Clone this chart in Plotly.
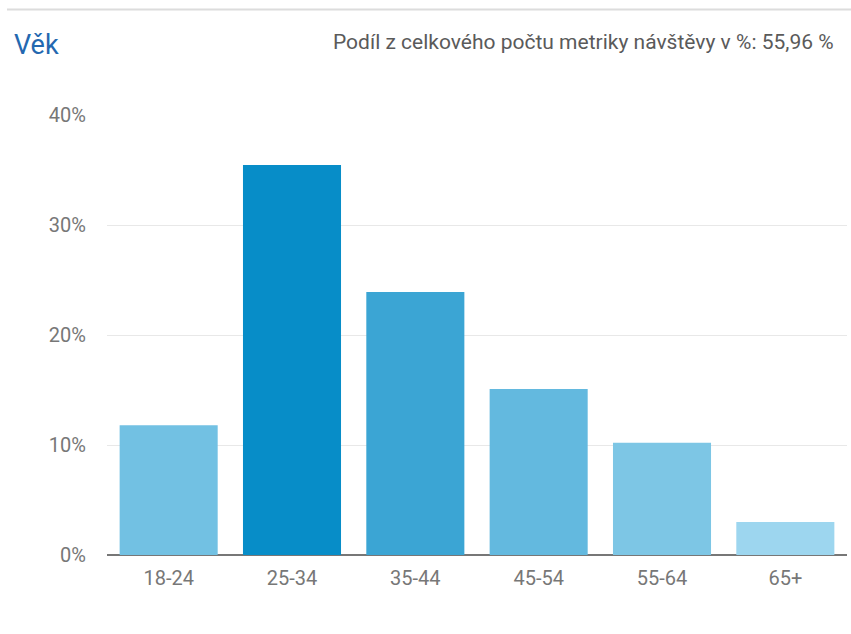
import plotly.graph_objects as go

# Age groups and their share of visits (%)
age_groups = ["18-24", "25-34", "35-44", "45-54", "55-64", "65+"]
share_pct = [11.8, 35.45, 23.9, 15.1, 10.2, 3.0]
bar_colors = ["#72c1e3", "#078dc8", "#3ba5d4", "#63b9df", "#7dc6e5", "#9dd6ef"]
y_ticks = [0, 10, 20, 30, 40]
y_tick_labels = ["0%", "10%", "20%", "30%", "40%"]

W, H = 851, 634
L, R, T, B = 107, 4, 115, 79
pw, ph = W - L - R, H - T - B


def px_x(x):
    return (x - L) / pw


def px_y(y):
    return (H - B - y) / ph


fig = go.Figure(
    go.Bar(
        x=age_groups,
        y=share_pct,
        marker=dict(color=bar_colors, line=dict(width=0)),
        hoverinfo="skip",
    )
)

fig.update_layout(
    width=W,
    height=H,
    margin=dict(l=L, r=R, t=T, b=B, pad=0),
    paper_bgcolor="white",
    plot_bgcolor="white",
    font=dict(family="Roboto, Arial, sans-serif", size=20, color="#777777"),
    bargap=0.205,
    showlegend=False,
    xaxis=dict(
        showgrid=False,
        showline=False,
        ticks="",
        ticklabelstandoff=9,
        tickfont=dict(size=20, color="#777777"),
    ),
    yaxis=dict(
        range=[0, 40],
        tickvals=y_ticks,
        ticktext=y_tick_labels,
        showgrid=True,
        gridcolor="#e8e8e8",
        gridwidth=1,
        zeroline=True,
        zerolinecolor="#777777",
        zerolinewidth=2,
        showline=False,
        ticks="",
        ticklabelstandoff=20,
        tickfont=dict(size=20, color="#777777"),
    ),
    shapes=[
        dict(
            type="line",
            xref="paper",
            yref="paper",
            x0=px_x(7),
            x1=px_x(851),
            y0=px_y(9.5),
            y1=px_y(9.5),
            line=dict(color="#dcdcdc", width=2),
        )
    ],
    annotations=[
        dict(
            text="Věk",
            xref="paper",
            yref="paper",
            x=px_x(12),
            y=px_y(45),
            xanchor="left",
            yanchor="middle",
            showarrow=False,
            font=dict(size=27, color="#2468b0"),
        ),
        dict(
            text="Podíl z celkového počtu metriky návštěvy v %: 55,96 %",
            xref="paper",
            yref="paper",
            x=px_x(836),
            y=px_y(42),
            xanchor="right",
            yanchor="middle",
            showarrow=False,
            font=dict(size=21, color="#5a5a5a"),
        ),
    ],
)

fig.write_html("out.html")
